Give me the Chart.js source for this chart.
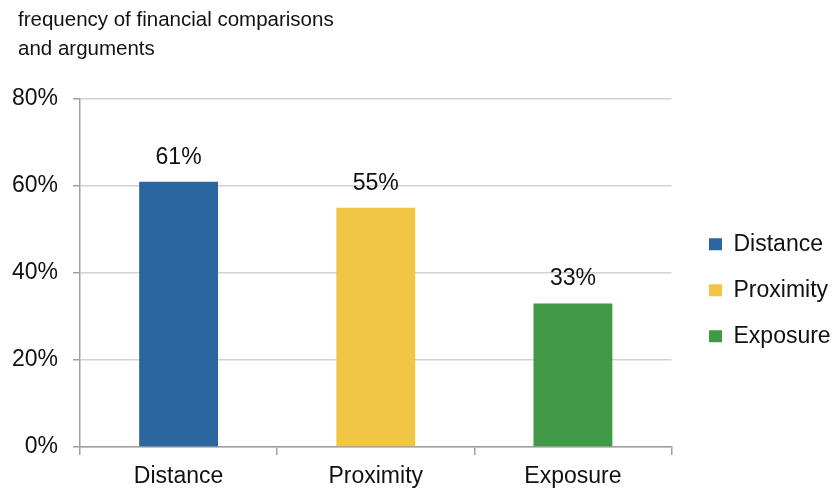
<!DOCTYPE html>
<html lang="en">
<head>
    <meta charset="UTF-8">
    <title>Frequency of financial comparisons</title>
    <style>
        body {
            margin: 0;
            background-color: #fff;
        }
        .chart-container {
            position: relative;
            width: 837px;
            height: 493px;
        }
        .chart-title {
            position: absolute;
            left: 18px;
            top: 5px;
            font-family: 'Liberation Sans', Arial, sans-serif;
            font-size: 20.5px;
            line-height: 28.5px;
            color: #111;
        }
    </style>
</head>
<body>
    <div class="chart-container">
        <div class="chart-title">frequency of financial comparisons<br>and arguments</div>
        <canvas id="barChart" width="837" height="493"></canvas>
    </div>

    <script src="https://cdn.jsdelivr.net/npm/chart.js"></script>
    <script>
        // chart data
        const categories = ['Distance', 'Proximity', 'Exposure'];
        const shares = [61, 55, 33];
        const barColors = ['#2b66a0', '#f0c644', '#409a45'];
        const yTicks = [0, 20, 40, 60, 80];

        const fontFamily = "'Liberation Sans', Arial, sans-serif";

        // draws the percentage above each bar
        const valueLabels = {
            id: 'valueLabels',
            afterDatasetsDraw(chart) {
                const ctx = chart.ctx;
                const meta = chart.getDatasetMeta(0);
                ctx.save();
                ctx.font = `23px ${fontFamily}`;
                ctx.fillStyle = '#111';
                ctx.textAlign = 'center';
                ctx.textBaseline = 'alphabetic';
                meta.data.forEach((bar, i) => {
                    ctx.fillText(shares[i] + '%', bar.x, bar.y - 18);
                });
                ctx.restore();
            }
        };

        const ctx = document.getElementById('barChart').getContext('2d');
        const barChart = new Chart(ctx, {
            type: 'bar',
            data: {
                labels: categories,
                datasets: [{
                    label: 'frequency',
                    data: shares,
                    backgroundColor: barColors,
                    borderWidth: 0,
                    categoryPercentage: 1,
                    barPercentage: 0.4
                }]
            },
            options: {
                responsive: false,
                animation: false,
                layout: {
                    // top space holds the html title
                    padding: { left: 0, right: 0, top: 99, bottom: 0 }
                },
                scales: {
                    x: {
                        afterFit(scale) {
                            scale.height = 46;
                        },
                        grid: {
                            drawOnChartArea: false,
                            drawTicks: true,
                            tickLength: 8,
                            color: '#a0a0a0',
                            lineWidth: 1.5
                        },
                        border: { color: '#a0a0a0', width: 1.5 },
                        ticks: {
                            color: '#111',
                            padding: 8,
                            font: { family: fontFamily, size: 23 }
                        }
                    },
                    y: {
                        min: 0,
                        max: 80,
                        afterBuildTicks(scale) {
                            scale.ticks = yTicks.map(v => ({ value: v }));
                        },
                        afterFit(scale) {
                            scale.width = 80;
                        },
                        grid: {
                            color: '#d2d2d2',
                            lineWidth: 1.5,
                            tickLength: 7,
                            tickColor: '#a0a0a0'
                        },
                        border: { color: '#a0a0a0', width: 1.5 },
                        ticks: {
                            color: '#111',
                            padding: 15,
                            font: { family: fontFamily, size: 23 },
                            callback: v => v + '%'
                        }
                    },
                    // empty spacer on the right, keeps the plot clear of the legend
                    gap: {
                        type: 'linear',
                        axis: 'y',
                        position: 'right',
                        afterFit(scale) {
                            scale.width = 26;
                        },
                        grid: { display: false },
                        border: { display: false },
                        ticks: { display: false }
                    }
                },
                plugins: {
                    legend: {
                        position: 'right',
                        labels: {
                            color: '#111',
                            font: { family: fontFamily, size: 23, lineHeight: 1.5 },
                            boxWidth: 13,
                            boxHeight: 12,
                            padding: 11.5,
                            generateLabels(chart) {
                                // text as a one-line array so the row height follows lineHeight
                                return categories.map((name, i) => ({
                                    text: [name],
                                    fillStyle: barColors[i],
                                    strokeStyle: barColors[i],
                                    fontColor: '#111',
                                    lineWidth: 0,
                                    index: i,
                                    datasetIndex: 0
                                }));
                            }
                        }
                    },
                    tooltip: { enabled: false }
                }
            },
            plugins: [valueLabels]
        });
    </script>
</body>
</html>
